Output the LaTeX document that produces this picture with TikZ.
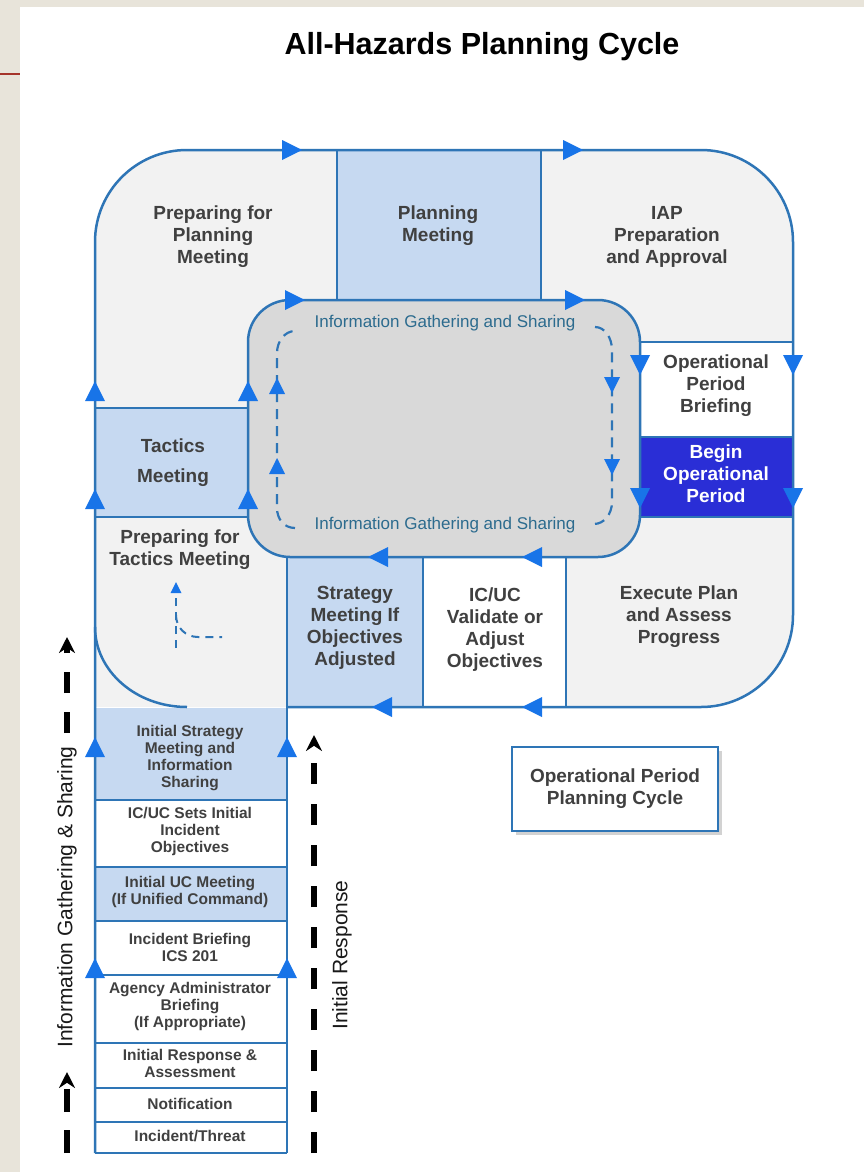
\documentclass[tikz,border=0pt]{standalone}
\usepackage{fontspec}
\setmainfont{Liberation Sans}
\usetikzlibrary{arrows.meta,shadows}

\definecolor{pagebeige}{HTML}{E8E4DA}
\definecolor{slidered}{HTML}{A5342A}
\definecolor{panegray}{HTML}{F2F2F2}
\definecolor{paleblue}{HTML}{C6D9F1}
\definecolor{coregray}{HTML}{D9D9D9}
\definecolor{deepblue}{HTML}{2A2ED6}
\definecolor{lineblue}{HTML}{2E75B6}
\definecolor{tipblue}{HTML}{1874E8}
\definecolor{txtgray}{HTML}{404040}
\definecolor{infoteal}{HTML}{2C6B8E}

% filled flow tips: [size]{x}{y}, tip at (x,y)
\newcommand{\tipU}[3][20]{\fill[tipblue] (#2,#3) -- ++(-#1/2,#1) -- ++(#1,0) -- cycle;}
\newcommand{\tipD}[3][20]{\fill[tipblue] (#2,#3) -- ++(-#1/2,-#1) -- ++(#1,0) -- cycle;}
\newcommand{\tipL}[3][20]{\fill[tipblue] (#2,#3) -- ++(#1,-#1/2) -- ++(0,#1) -- cycle;}
\newcommand{\tipR}[3][20]{\fill[tipblue] (#2,#3) -- ++(-#1,-#1/2) -- ++(0,#1) -- cycle;}

\tikzset{
  loopline/.style={draw=lineblue,line width=2.5pt},
  infoloop/.style={draw=lineblue,line width=2.2pt,dash pattern=on 10pt off 7pt},
  boxtext/.style={font=\fontsize{19}{22}\selectfont\bfseries,text=txtgray,align=center},
  stacktext/.style={font=\fontsize{15.5}{17}\selectfont\bfseries,text=txtgray,align=center},
  infotext/.style={font=\fontsize{17}{20}\selectfont,text=infoteal},
  sidelabel/.style={font=\fontsize{21}{24}\selectfont,text=black!90,rotate=90},
  guidedash/.style={line width=6.5pt,black,-{Stealth[length=16pt,width=16pt]}},
}

\begin{document}
\begin{tikzpicture}[x=1pt,y=-1pt]
    \useasboundingbox (0,0) rectangle (864,1172);
    \fill[pagebeige] (0,0) rectangle (864,1172);
    \fill[white] (20,7) rectangle (864,1172);
    \draw[slidered,line width=2.5pt] (0,74) -- (20,74);

    \node[font=\fontsize{30.5}{34}\selectfont\bfseries,anchor=base] (title) at (482,55) {All-Hazards Planning Cycle};

    % panels of the cycle
    \fill[panegray,rounded corners=92pt] (95,430) -- (95,150) -- (793,150) -- (793,707) -- (95,707) -- cycle;
    \fill[panegray] (95,517) rectangle (287,707);
    \fill[paleblue] (337,150) rectangle (541,300);
    \fill[paleblue] (95,408) rectangle (248,517);
    \fill[paleblue] (287,557) rectangle (423,707);
    \fill[white] (423,557) rectangle (566,707);
    \fill[white] (640,342) rectangle (793,437);
    \fill[deepblue] (640,437) rectangle (793,517);

    % initial response stack
    \fill[white] (95,800) rectangle (287,1153);
    \fill[paleblue] (95,708) rectangle (287,800);
    \fill[paleblue] (95,867) rectangle (287,921);

    \draw[loopline,fill=coregray,rounded corners=42pt] (248,300) rectangle (640,557);

    \draw[loopline,rounded corners=92pt] (95,1153) -- (95,150) -- (793,150) -- (793,707) -- (287,707);
    \draw[loopline] (95,627) .. controls (95,671) and (136,707) .. (187,707);
    \draw[loopline] (337,150) -- (337,300) (541,150) -- (541,300);
    \draw[loopline] (95,408) -- (248,408) (95,517) -- (248,517);
    \draw[loopline] (640,342) -- (793,342) (640,437) -- (793,437) (640,517) -- (793,517);
    \draw[loopline] (287,557) -- (287,1153) (423,557) -- (423,707) (566,557) -- (566,707);
    \foreach \yy in {800,867,921,975,1043,1088,1122,1153}
        \draw[loopline] (95,\yy) -- (287,\yy);

    \tipR{302}{150} \tipR{583}{150} \tipR{305}{300} \tipR{585}{300}
    \tipU{95}{381} \tipU{95}{489} \tipU{248}{381} \tipU{248}{489}
    \tipU{95}{737} \tipU{287}{737} \tipU{95}{958} \tipU{287}{958}
    \tipD{640}{375} \tipD{640}{508} \tipD{793}{375} \tipD{793}{508}
    \tipL{368}{557} \tipL{522}{557} \tipL{372}{707} \tipL{522}{707}

    % inner information loop
    \draw[infoloop] (295,528) .. controls (284,528) and (277,519) .. (277,508) -- (277,353) .. controls (277,341) and (285,331) .. (295,331);
    \draw[infoloop] (595,327) .. controls (605,327) and (612,338) .. (612,350) -- (612,502) .. controls (612,514) and (604,524) .. (594,524);
    \tipU[16]{277}{378} \tipU[16]{277}{458} \tipD[16]{612}{393} \tipD[16]{612}{475}
    \draw[infoloop,dash pattern=on 8pt off 6pt,line width=2pt] (176,648) -- (176,590);
    \draw[infoloop,dash pattern=on 8pt off 6pt,line width=2pt] (176,615) .. controls (176,628) and (186,637) .. (198,637) -- (222,637);
    \tipU[11]{176}{582}

    \node[infotext] (infotop) at (445,323) {Information Gathering and Sharing};
    \node[infotext] (infobot) at (445,525) {Information Gathering and Sharing};

    \node[boxtext] (prepplan) at (213,237) {Preparing for\\Planning\\Meeting};
    \node[boxtext] (planmtg) at (438,226) {Planning\\Meeting};
    \node[boxtext] (iapprep) at (667,237) {IAP\\Preparation\\and Approval};
    \node[boxtext] (opbrief) at (716,386) {Operational\\Period\\Briefing};
    \node[boxtext,text=white] (beginop) at (716,474) {Begin\\Operational\\Period};
    \node[boxtext,font=\fontsize{19}{30}\selectfont\bfseries] (tactics) at (173,463) {Tactics\\Meeting};
    \node[boxtext] (preptactics) at (180,550) {Preparing for\\Tactics Meeting};
    \node[boxtext] (stratmtg) at (355,628) {Strategy\\Meeting If\\Objectives\\Adjusted};
    \node[boxtext] (validate) at (495,630) {IC/UC\\Validate or\\Adjust\\Objectives};
    \node[boxtext] (execute) at (679,617) {Execute Plan\\and Assess\\Progress};
    \node[boxtext,draw=lineblue,line width=2.5pt,fill=white,minimum width=206pt,minimum height=84pt,
          drop shadow={opacity=0.35,shadow xshift=4pt,shadow yshift=-4pt}] (opcycle) at (615,789) {Operational Period\\Planning Cycle};

    \node[stacktext] (isms) at (190,758) {Initial Strategy\\Meeting and\\Information\\Sharing};
    \node[stacktext] (setobj) at (190,831) {IC/UC Sets Initial\\Incident\\Objectives};
    \node[stacktext] (ucmtg) at (190,892) {Initial UC Meeting\\(If Unified Command)};
    \node[stacktext] (icsbrief) at (190,947) {Incident Briefing\\ICS 201};
    \node[stacktext] (agency) at (190,1006) {Agency Administrator\\Briefing\\(If Appropriate)};
    \node[stacktext] (initresp) at (190,1063) {Initial Response \&\\Assessment};
    \node[stacktext] (notif) at (190,1104) {Notification};
    \node[stacktext] (threat) at (190,1136) {Incident/Threat};

    % side guides
    \coordinate (igbot) at (67,1153);
    \coordinate (igarrow) at (67,1072);
    \coordinate (igmid) at (67,733);
    \coordinate (igtop) at (67,637);
    \coordinate (irbot) at (314,1153);
    \coordinate (irtop) at (314,735);
    \draw[guidedash,dash pattern=on 23pt off 18pt] (igbot) -- (igarrow);
    \draw[guidedash,dash pattern=on 21pt off 19pt] (igmid) -- (igtop);
    \draw[guidedash,dash pattern=on 21pt off 20pt] (irbot) -- (irtop);
    \node[sidelabel] (igslabel) at (67,897) {Information Gathering \& Sharing};
    \node[sidelabel] (irlabel) at (342,955) {Initial Response};
\end{tikzpicture}
\end{document}
